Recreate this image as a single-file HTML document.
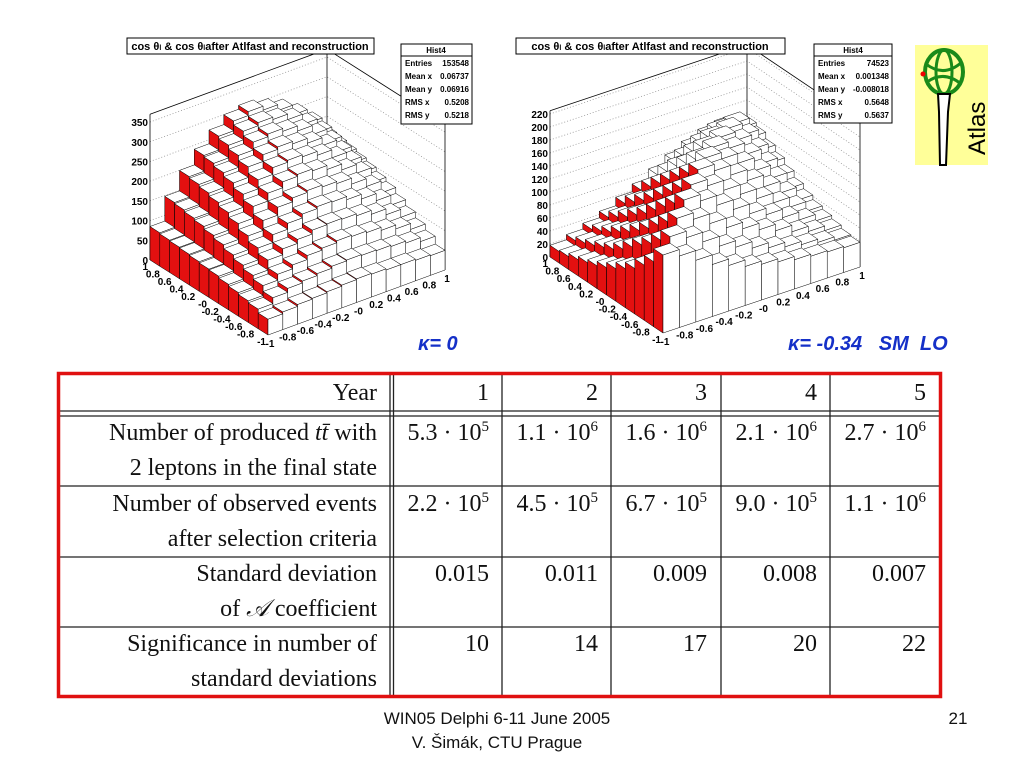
<!DOCTYPE html>
<html><head><meta charset="utf-8"><style>
body{margin:0;background:#fff;}
svg{display:block;}
.rs{font-family:"Liberation Sans",sans-serif;}
.sf{font-family:"Liberation Serif",serif;font-size:24px;fill:#111;}
</style></head><body>
<svg id="page" width="1024" height="768" viewBox="0 0 1024 768">
<g id="plotL"></g>
<g id="plotR"></g>

<g>
<rect x="127" y="38" width="247" height="16" fill="#fff" stroke="#000"/>
<text x="250" y="50" text-anchor="middle" class="rs" font-size="11" font-weight="bold">cos θ<tspan font-size="7">l</tspan> &amp; cos θ<tspan font-size="7">l</tspan>after Atlfast and reconstruction</text>
</g>
<g>
<rect x="516" y="38" width="269" height="16" fill="#fff" stroke="#000"/>
<text x="650" y="50" text-anchor="middle" class="rs" font-size="11" font-weight="bold">cos θ<tspan font-size="7">l</tspan> &amp; cos θ<tspan font-size="7">l</tspan>after Atlfast and reconstruction</text>
</g>
<g class="rs" font-size="8" font-weight="bold">
<rect x="401" y="44" width="71" height="80" fill="#fff" stroke="#000"/>
<line x1="401" y1="56" x2="472" y2="56" stroke="#000"/>
<text x="436" y="53" text-anchor="middle">Hist4</text>
<text x="405" y="66">Entries</text><text x="469" y="66" text-anchor="end">153548</text>
<text x="405" y="79">Mean x</text><text x="469" y="79" text-anchor="end">0.06737</text>
<text x="405" y="92">Mean y</text><text x="469" y="92" text-anchor="end">0.06916</text>
<text x="405" y="105">RMS x</text><text x="469" y="105" text-anchor="end">0.5208</text>
<text x="405" y="118">RMS y</text><text x="469" y="118" text-anchor="end">0.5218</text>
</g>
<g class="rs" font-size="8" font-weight="bold">
<rect x="814" y="44" width="78" height="79" fill="#fff" stroke="#000"/>
<line x1="814" y1="56" x2="892" y2="56" stroke="#000"/>
<text x="853" y="53" text-anchor="middle">Hist4</text>
<text x="818" y="66">Entries</text><text x="889" y="66" text-anchor="end">74523</text>
<text x="818" y="79">Mean x</text><text x="889" y="79" text-anchor="end">0.001348</text>
<text x="818" y="92">Mean y</text><text x="889" y="92" text-anchor="end">-0.008018</text>
<text x="818" y="105">RMS x</text><text x="889" y="105" text-anchor="end">0.5648</text>
<text x="818" y="118">RMS y</text><text x="889" y="118" text-anchor="end">0.5637</text>
</g>
<g>
<rect x="915" y="45" width="73" height="120" fill="#ffff99"/>
<ellipse cx="944" cy="72" rx="19" ry="22" fill="none" stroke="#1a8a1a" stroke-width="4"/>
<ellipse cx="944" cy="72" rx="8" ry="22" fill="none" stroke="#1a8a1a" stroke-width="3"/>
<path d="M926 64 Q944 78 962 62 M927 82 Q944 70 961 84" fill="none" stroke="#1a8a1a" stroke-width="3"/>
<circle cx="923" cy="74" r="2.5" fill="#e00"/>
<path d="M938 94 L950 94 L948 112 L946 165 L940 165 L939 112 Z" fill="#fff" stroke="#000" stroke-width="2"/>
<text transform="translate(985,155) rotate(-90)" class="rs" font-size="24">Atlas</text>
</g>
<text x="418" y="350" class="rs" font-size="20" font-weight="bold" font-style="italic" fill="#1530c8">κ= 0</text>
<text x="788" y="350" class="rs" font-size="20" font-weight="bold" font-style="italic" fill="#1530c8" xml:space="preserve">κ= -0.34   SM  LO</text>

<g stroke="#222" stroke-width="1.3">
<line x1="59" y1="411" x2="940" y2="411"/><line x1="59" y1="416" x2="940" y2="416"/>
<line x1="59" y1="486" x2="940" y2="486"/><line x1="59" y1="557" x2="940" y2="557"/><line x1="59" y1="627" x2="940" y2="627"/>
<line x1="390" y1="374" x2="390" y2="697"/><line x1="393.5" y1="374" x2="393.5" y2="697"/>
<line x1="502" y1="374" x2="502" y2="697"/><line x1="611" y1="374" x2="611" y2="697"/>
<line x1="721" y1="374" x2="721" y2="697"/><line x1="830" y1="374" x2="830" y2="697"/>
<rect x="58.5" y="373.5" width="882" height="323" fill="none" stroke="#e01010" stroke-width="3.5"/>
</g>
<g class="sf" text-anchor="end">
<text x="377" y="400">Year</text>
<text x="489" y="400">1</text><text x="598" y="400">2</text><text x="707" y="400">3</text><text x="817" y="400">4</text><text x="926" y="400">5</text>
<text x="377" y="440">Number of produced <tspan font-style="italic">tt̄</tspan> with</text>
<text x="377" y="475">2 leptons in the final state</text>
<text x="377" y="511">Number of observed events</text>
<text x="377" y="546">after selection criteria</text>
<text x="377" y="581">Standard deviation</text>
<text x="377" y="616">of <tspan font-style="italic">𝒜</tspan> coefficient</text>
<text x="377" y="651">Significance in number of</text>
<text x="377" y="686">standard deviations</text>
<text x="489" y="440">5.3 · 10<tspan dy="-9" font-size="15">5</tspan></text>
<text x="598" y="440">1.1 · 10<tspan dy="-9" font-size="15">6</tspan></text>
<text x="707" y="440">1.6 · 10<tspan dy="-9" font-size="15">6</tspan></text>
<text x="817" y="440">2.1 · 10<tspan dy="-9" font-size="15">6</tspan></text>
<text x="926" y="440">2.7 · 10<tspan dy="-9" font-size="15">6</tspan></text>
<text x="489" y="511">2.2 · 10<tspan dy="-9" font-size="15">5</tspan></text>
<text x="598" y="511">4.5 · 10<tspan dy="-9" font-size="15">5</tspan></text>
<text x="707" y="511">6.7 · 10<tspan dy="-9" font-size="15">5</tspan></text>
<text x="817" y="511">9.0 · 10<tspan dy="-9" font-size="15">5</tspan></text>
<text x="926" y="511">1.1 · 10<tspan dy="-9" font-size="15">6</tspan></text>
<text x="489" y="581">0.015</text><text x="598" y="581">0.011</text><text x="707" y="581">0.009</text><text x="817" y="581">0.008</text><text x="926" y="581">0.007</text>
<text x="489" y="651">10</text><text x="598" y="651">14</text><text x="707" y="651">17</text><text x="817" y="651">20</text><text x="926" y="651">22</text>
</g>
<g class="rs" font-size="17" fill="#111">
<text x="497" y="724" text-anchor="middle">WIN05  Delphi 6-11 June 2005</text>
<text x="497" y="748" text-anchor="middle">V. Šimák, CTU Prague</text>
<text x="958" y="724" text-anchor="middle">21</text>
</g>
</svg>
<script>
const xTickLabels = ["-1","-0.8","-0.6","-0.4","-0.2","-0","0.2","0.4","0.6","0.8","1"];
const yTickLabels = ["1","0.8","0.6","0.4","0.2","-0","-0.2","-0.4","-0.6","-0.8","-1"];
const zTicksLeft = [0,50,100,150,200,250,300,350];
const zTicksRight = [0,20,40,60,80,100,120,140,160,180,200,220];
const countsLeft = [
[40,45,50,52,55,58,60,58,55,55,52,50],
[50,65,75,80,85,90,92,90,88,85,80,70],
[55,80,95,105,115,120,125,122,118,110,100,85],
[60,90,115,130,140,150,152,150,145,135,120,100],
[65,100,130,150,165,175,180,178,170,158,140,115],
[70,110,145,170,190,200,205,200,195,180,160,130],
[72,120,160,190,210,225,230,225,215,200,178,140],
[75,128,172,205,228,245,250,245,235,215,190,150],
[78,135,182,218,245,262,268,262,250,230,200,158],
[80,140,190,228,258,278,285,278,265,242,210,165],
[82,145,196,236,268,290,298,292,278,252,218,170],
[85,148,200,240,275,300,310,300,285,260,225,175]];
const countsRight = [
[120,110,95,80,70,60,55,50,45,42,40,38],
[100,130,120,105,90,80,70,62,55,50,45,40],
[85,115,140,130,115,100,90,80,70,60,52,45],
[70,100,125,150,140,125,110,95,85,72,60,50],
[60,88,110,135,155,145,130,115,100,85,70,55],
[50,75,95,120,140,160,150,135,118,100,82,62],
[42,62,82,105,125,145,160,150,135,115,95,70],
[35,52,70,90,110,130,148,158,148,130,108,80],
[30,45,60,78,95,115,132,148,155,142,120,90],
[25,38,50,65,82,100,118,132,145,150,132,100],
[20,32,42,55,70,85,100,115,128,138,140,110],
[18,26,35,45,58,70,85,98,110,120,125,115]];

const NS = "http://www.w3.org/2000/svg";
function mk(tag, attrs, parent){const e=document.createElementNS(NS,tag);for(const k in attrs)e.setAttribute(k,attrs[k]);parent.appendChild(e);return e;}

function drawLego(g, geo, grid, zTicks){
  const P=(u,v,z)=>[geo.A[0]+u*(geo.B[0]-geo.A[0])+v*(geo.C[0]-geo.A[0]), geo.A[1]+u*(geo.B[1]-geo.A[1])+v*(geo.C[1]-geo.A[1])-z*geo.k];
  const pts=a=>a.map(p=>p[0].toFixed(1)+","+p[1].toFixed(1)).join(" ");
  const zmax=geo.zmax;
  const walls=mk("g",{},g);
  
  
  zTicks.forEach(z=>{
    const a=P(0,1,z),b=P(1,1,z),c=P(1,0,z);
    mk("polyline",{points:pts([a,b,c]),fill:"none",stroke:"#888","stroke-dasharray":"1,2","stroke-width":0.7},walls);
    const t=mk("text",{x:a[0]-2,y:a[1]+4,"text-anchor":"end","font-family":"Liberation Sans,sans-serif","font-size":10,"font-weight":"bold"},walls);
    t.textContent=z;
    
    
  });
  [[0,1],[1,1],[1,0]].forEach(c=>{const a=P(c[0],c[1],0),b=P(c[0],c[1],zmax);mk("line",{x1:a[0],y1:a[1],x2:b[0],y2:b[1],stroke:"#000","stroke-width":0.8},walls);});
  mk("polyline",{points:pts([P(0,1,zmax),P(1,1,zmax),P(1,0,zmax)]),fill:"none",stroke:"#000","stroke-width":0.8},walls);
  mk("polyline",{points:pts([P(0,1,0),P(1,1,0),P(1,0,0)]),fill:"none",stroke:"#000","stroke-width":0.6},walls);
  const n=grid.length, m=grid[0].length;
  const bars=mk("g",{stroke:"#000","stroke-width":0.5,"stroke-linejoin":"round"},g);
  for(let j=n-1;j>=0;j--){for(let i=m-1;i>=0;i--){
    const h=grid[j][i],u0=i/m,u1=(i+1)/m,v0=j/n,v1=(j+1)/n;
    const bar=mk("g",{},bars);
    
    
    mk("polygon",{points:pts([P(u0,v0,0),P(u0,v1,0),P(u0,v1,h),P(u0,v0,h)]),fill:geo.red(i)},bar);
    mk("polygon",{points:pts([P(u0,v0,0),P(u1,v0,0),P(u1,v0,h),P(u0,v0,h)]),fill:"#fff"},bar);
    mk("polygon",{points:pts([P(u0,v0,h),P(u1,v0,h),P(u1,v1,h),P(u0,v1,h)]),fill:"#fff"},bar);
  }}
  xTickLabels.forEach((s,k)=>{const p=P(k/10,0,0);const t=mk("text",{x:p[0]+2,y:p[1]+12,"text-anchor":"middle","font-family":"Liberation Sans,sans-serif","font-size":10,"font-weight":"bold"},g);t.textContent=s;
    
    });
  yTickLabels.forEach((s,k)=>{const p=P(0,1-k/10,0);const t=mk("text",{x:p[0]-2,y:p[1]+10,"text-anchor":"end","font-family":"Liberation Sans,sans-serif","font-size":10,"font-weight":"bold"},g);t.textContent=s;
    
    });
}
drawLego(document.getElementById("plotL"),{A:[268,335],B:[445,270],C:[150,260],k:0.394,zmax:370,red:()=>"#e31010"},countsLeft,zTicksLeft);
drawLego(document.getElementById("plotR"),{A:[663,333],B:[860,267],C:[550,257],k:0.65,zmax:225,red:i=>i<6?"#e31010":"#fff"},countsRight,zTicksRight);
</script>
</body></html>
